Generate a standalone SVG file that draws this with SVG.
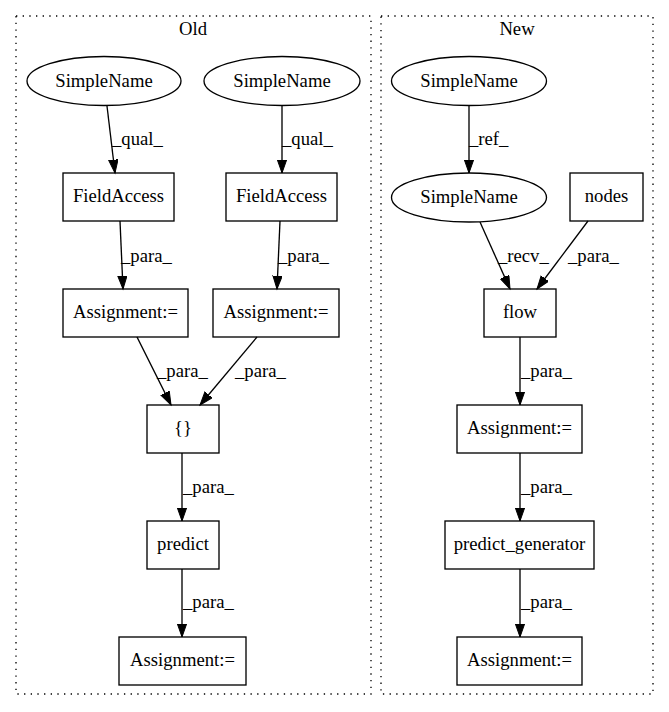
<svg xmlns="http://www.w3.org/2000/svg" width="669" height="712" viewBox="0 0 669 712">
<defs>
<marker id="arr" markerUnits="userSpaceOnUse" markerWidth="16" markerHeight="12" refX="13.3" refY="4.7" orient="auto">
<path d="M0,0 L13.3,4.7 L0,9.4 Z" fill="#000" stroke="#000" stroke-width="1"/>
</marker>
<style>
text{font-family:"Liberation Serif","Times New Roman",serif;font-size:18.67px;fill:#000}
.n{fill:#fff;stroke:#000;stroke-width:1.33}
.c{fill:none;stroke:#000;stroke-width:1.33;stroke-dasharray:1.33,5.33}
.e line{stroke:#000;stroke-width:1.33;marker-end:url(#arr)}
.m{text-anchor:middle}
</style>
</defs>
<rect width="669" height="712" fill="#fff"/>
<g id="cluster_old">
<rect class="c" x="16" y="16" width="355" height="678"/>
<text class="m" x="193" y="35">Old</text>
</g>
<g id="cluster_new">
<rect class="c" x="381" y="16" width="272" height="678"/>
<text class="m" x="517" y="35">New</text>
</g>
<g id="o_sn1"><ellipse class="n" cx="104" cy="81" rx="77" ry="24.5"/><text class="m" x="104" y="87">SimpleName</text></g>
<g id="o_sn2"><ellipse class="n" cx="282" cy="81" rx="78" ry="24.5"/><text class="m" x="282" y="87">SimpleName</text></g>
<g id="o_fa1"><rect class="n" x="63" y="173" width="111" height="48"/><text class="m" x="118.5" y="202">FieldAccess</text></g>
<g id="o_fa2"><rect class="n" x="226" y="173" width="111" height="48"/><text class="m" x="281.5" y="202">FieldAccess</text></g>
<g id="o_as1"><rect class="n" x="63" y="289" width="125" height="48"/><text class="m" x="125.5" y="318">Assignment:=</text></g>
<g id="o_as2"><rect class="n" x="213" y="289" width="126" height="48"/><text class="m" x="276" y="318">Assignment:=</text></g>
<g id="o_br"><rect class="n" x="147" y="405" width="72" height="48"/><text class="m" x="183" y="434">{}</text></g>
<g id="o_pr"><rect class="n" x="147" y="521" width="72" height="48"/><text class="m" x="183" y="550">predict</text></g>
<g id="o_as3"><rect class="n" x="119" y="637" width="127" height="48"/><text class="m" x="182.5" y="666">Assignment:=</text></g>
<g id="n_sn1"><ellipse class="n" cx="469" cy="81" rx="77.5" ry="24.5"/><text class="m" x="469" y="87">SimpleName</text></g>
<g id="n_sn2"><ellipse class="n" cx="469" cy="197.5" rx="77.5" ry="24.5"/><text class="m" x="469" y="203">SimpleName</text></g>
<g id="n_nodes"><rect class="n" x="570" y="173" width="73" height="48"/><text class="m" x="606.5" y="202">nodes</text></g>
<g id="n_flow"><rect class="n" x="484" y="289" width="72" height="48"/><text class="m" x="520" y="318">flow</text></g>
<g id="n_as1"><rect class="n" x="457" y="405" width="125" height="48"/><text class="m" x="519.5" y="434">Assignment:=</text></g>
<g id="n_pg"><rect class="n" x="445" y="521" width="149" height="48"/><text class="m" x="519.5" y="550">predict_generator</text></g>
<g id="n_as2"><rect class="n" x="457" y="637" width="125" height="48"/><text class="m" x="519.5" y="666">Assignment:=</text></g>
<g id="edges" class="e">
<line x1="107" y1="106" x2="115" y2="173"/><text x="112" y="145">_qual_</text>
<line x1="282" y1="106" x2="282" y2="173"/><text x="282" y="145">_qual_</text>
<line x1="120" y1="221" x2="123" y2="289"/><text x="121" y="262">_para_</text>
<line x1="280" y1="221" x2="277" y2="289"/><text x="278" y="262">_para_</text>
<line x1="137" y1="337" x2="171" y2="405"/><text x="157" y="377">_para_</text>
<line x1="257" y1="337" x2="200" y2="405"/><text x="235" y="377">_para_</text>
<line x1="182" y1="453" x2="182" y2="521"/><text x="183" y="493">_para_</text>
<line x1="182" y1="569" x2="182" y2="637"/><text x="183" y="608">_para_</text>
<line x1="469" y1="106" x2="469" y2="173"/><text x="469" y="145">_ref_</text>
<line x1="480" y1="222" x2="510" y2="289"/><text x="498" y="262">_recv_</text>
<line x1="588" y1="221" x2="537" y2="289"/><text x="568" y="262">_para_</text>
<line x1="520" y1="337" x2="520" y2="405"/><text x="521" y="377">_para_</text>
<line x1="520" y1="453" x2="520" y2="521"/><text x="521" y="493">_para_</text>
<line x1="520" y1="569" x2="520" y2="637"/><text x="521" y="608">_para_</text>
</g>
</svg>
